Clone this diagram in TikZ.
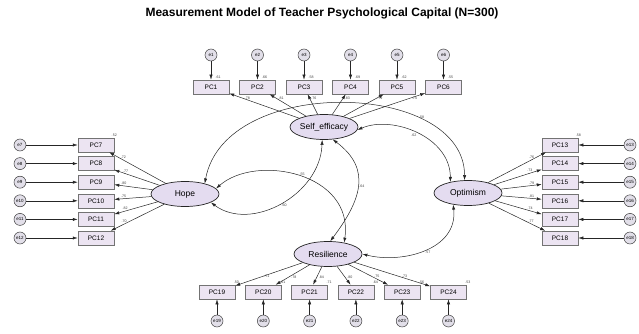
\documentclass[tikz,border=0pt]{standalone}
\usepackage{fontspec}
\setmainfont{Liberation Sans}
\usepackage{tikz}
\usetikzlibrary{arrows.meta,positioning,calc,shapes.geometric}
\definecolor{latentfill}{RGB}{228,220,240}
\definecolor{boxfill}{RGB}{236,228,242}
\definecolor{errfill}{RGB}{226,223,233}

\begin{document}
\begin{tikzpicture}[
  x=1pt, y=-1pt,
  every node/.style={inner sep=0pt},
  latent/.style   ={ellipse, draw=black!85, line width=0.7pt, fill=latentfill,
                    minimum width=68pt, minimum height=25pt,
                    font=\fontsize{8.5}{9}\selectfont},
  indicator/.style={rectangle, draw=black!55, line width=0.5pt, fill=boxfill,
                    minimum width=36pt, minimum height=14pt,
                    font=\fontsize{6.5}{7}\selectfont},
  errvar/.style   ={circle, draw=black!75, line width=0.5pt, fill=errfill,
                    minimum size=12pt, font=\fontsize{4.5}{5}\selectfont},
  loading/.style  ={draw=black!85, line width=0.5pt,
                    -{Latex[length=5pt,width=3.2pt]}},
  covar/.style    ={draw=black!85, line width=0.5pt,
                    {Latex[length=5pt,width=3.2pt]}-{Latex[length=5pt,width=3.2pt]}},
  est/.style      ={font=\fontsize{3.6}{4}\selectfont, text=black!75, inner sep=0.5pt}]

\useasboundingbox (0,0) rectangle (639,334);

\node[font=\fontsize{12}{14}\selectfont\bfseries] (title) at (322,13)
  {Measurement Model of Teacher Psychological Capital (N=300)};

% =========================  latent factors  ==========================
\node[latent] (se)   at (324,127) {Self\_efficacy};
\node[latent] (hope) at (185,194) {Hope};
\node[latent] (opt)  at (468,193) {Optimism};
\node[latent] (res)  at (328,254) {Resilience};

% =====================  indicators and errors  =======================
\foreach \i/\x in {1/211,2/257.5,3/304,4/350.5,5/397,6/443.5}{
  \node[errvar]    (e\i)  at (\x,55) {e\i};
  \node[indicator] (pc\i) at (\x,87) {PC\i};}
\foreach \i in {7,...,12}{
  \node[errvar]    (e\i)  at (20,{145+18.6*(\i-7)}) {e\i};
  \node[indicator] (pc\i) at (96,{145+18.6*(\i-7)}) {PC\i};}
\foreach \i in {13,...,18}{
  \node[errvar]    (e\i)  at (630,{145+18.6*(\i-13)}) {e\i};
  \node[indicator] (pc\i) at (560,{145+18.6*(\i-13)}) {PC\i};}
\foreach \i in {19,...,24}{
  \node[errvar]    (e\i)  at ({217+46.3*(\i-19)},321) {e\i};
  \node[indicator] (pc\i) at ({217+46.3*(\i-19)},292) {PC\i};}

\foreach \i in {1,...,24}{\draw[loading] (e\i) -- (pc\i);}

% ===========================  loadings  ==============================
\foreach \i/\v in {1/.78,2/.81,3/.76,4/.83,5/.79,6/.74}{
  \draw[loading] (se) -- (pc\i) node[est, pos=.8, right=1pt] (l\i) {\v};}
\foreach \i/\v in {7/.72,8/.77,9/.80,10/.75,11/.82,12/.70}{
  \draw[loading] (hope) -- (pc\i) node[est, pos=.75, above=0.5pt] (l\i) {\v};}
\foreach \i/\v in {13/.76,14/.73,15/.79,16/.81,17/.74,18/.77}{
  \draw[loading] (opt) -- (pc\i) node[est, pos=.75, above=0.5pt] (l\i) {\v};}
\foreach \i/\v in {19/.71,20/.78,21/.84,22/.80,23/.75,24/.73}{
  \draw[loading] (res) -- (pc\i) node[est, pos=.6, right=1.5pt] (l\i) {\v};}

% ======================  squared correlations  =======================
\foreach \i/\v in {1/.61,2/.66,3/.58,4/.69,5/.62,6/.55}{
  \node[est, anchor=south west] (r\i) at ([xshift=4pt,yshift=1pt]pc\i.north) {\v};}
\node[est, anchor=south] (r7)  at ([yshift=1pt]pc7.north east)  {.52};
\node[est, anchor=south] (r13) at ([yshift=1pt]pc13.north east) {.58};
\foreach \i/\v in {19/.50,20/.61,21/.71,22/.64,23/.56,24/.53}{
  \node[est, anchor=south west] (r\i) at ([xshift=-2pt,yshift=1pt]pc\i.north east) {\v};}

% =========================  covariances  =============================
\draw[covar] (hope.28) .. controls +(20,-109) and +(0,-100) .. (opt.105)
  node[est, pos=.72, above right] (c1) {.58};
\draw[covar] (se.-5) .. controls +(35,-15) and +(0,-45) .. (opt.148)
  node[est, pos=.5, below left] (c2) {.62};
\draw[covar] (hope.10) .. controls +(40,-35) and +(10,-70) .. (res.35)
  node[est, pos=.5, above right] (c3) {.55};
\draw[covar] (se.262) .. controls +(-2,55) and +(40,30) .. (hope.-18)
  node[est, pos=.5, below right] (c4) {.60};
\draw[covar] (se.305) .. controls +(40,30) and +(30,-40) .. (res.80)
  node[est, pos=.5, right=1pt] (c5) {.64};
\draw[covar] (res.0) .. controls +(40,10) and +(5,45) .. (opt.218)
  node[est, pos=.5, below right] (c6) {.57};

\end{tikzpicture}
\end{document}
